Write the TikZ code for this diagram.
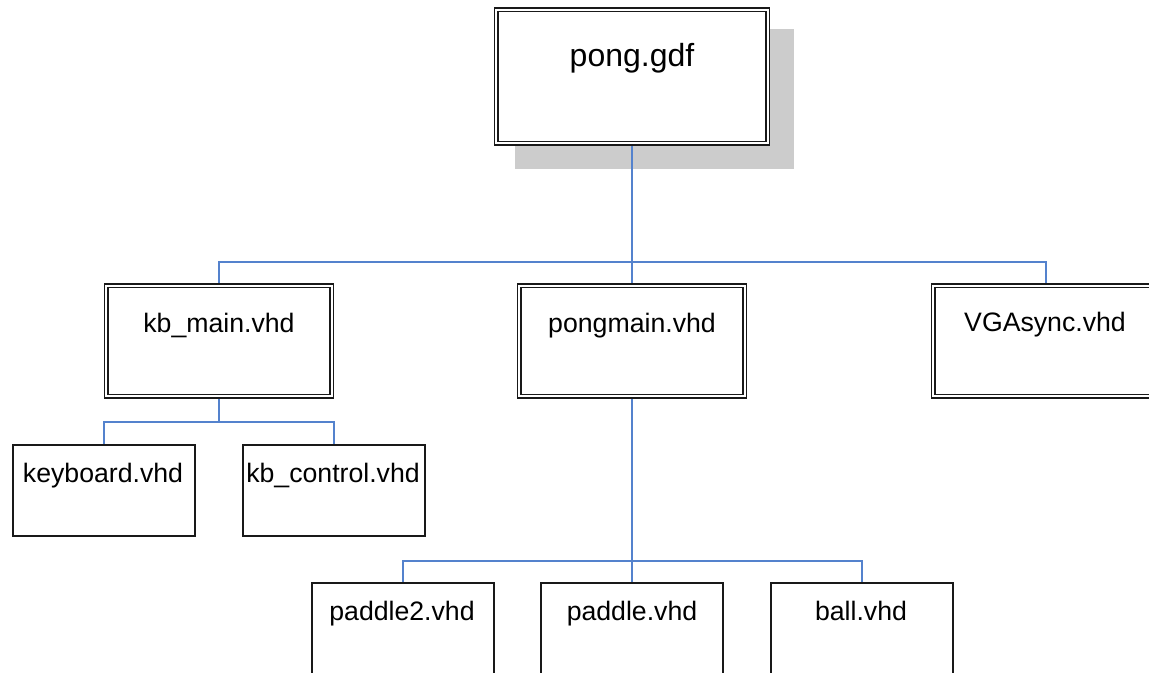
\documentclass[tikz,border=0pt]{standalone}
\usepackage{fontspec}
\setmainfont{Liberation Sans}
\usetikzlibrary{backgrounds}
\definecolor{connblue}{RGB}{84,130,205}
\definecolor{shadowgray}{RGB}{204,204,204}
\tikzset{
  dblbox/.style={draw=black!90, line width=1.15pt, double=white, double distance=1.5pt, fill=white,
    rectangle, inner sep=0pt, minimum width=169.4pt, minimum height=83.1pt},
  topbox/.style={dblbox, minimum width=203.9pt, minimum height=100.3pt},
  sglbox/.style={draw=black!90, line width=1.35pt, fill=white, rectangle, inner sep=0pt,
    minimum width=136.6pt, minimum height=68.4pt},
  lowbox/.style={sglbox, minimum height=90pt},
  lbl/.style={anchor=base, inner sep=0pt, font=\fontsize{20}{24}\selectfont},
  toplbl/.style={anchor=base, inner sep=0pt, font=\fontsize{24}{28}\selectfont},
  conn/.style={draw=connblue, line width=1.4pt},
  shade/.style={fill=shadowgray}
}
\begin{document}
\begin{tikzpicture}[x=0.75pt, y=-0.75pt]
\clip (0,0) rectangle (1149,673);
% boxes
\node[topbox] (pong) at (632,76.5) {};
\node[dblbox] (kb) at (219,341) {};
\node[dblbox] (pm) at (632,341) {};
\node[dblbox] (vga) at (1046,341) {};
\node[sglbox] (kbd) at (104,490.5) {};
\node[sglbox] (kbc) at (334,490.5) {};
\node[lowbox] (p2) at (403,643) {};
\node[lowbox] (pd) at (632,643) {};
\node[lowbox] (ball) at (862,643) {};
% labels
\node[toplbl] (tpong) at (632,67) {pong.gdf};
\node[lbl] (tkb) at (219,333) {kb\_main.vhd};
\node[lbl] (tpm) at (632,333) {pongmain.vhd};
\node[lbl] (tvga) at (1045,332) {VGAsync.vhd};
\node[lbl] (tkbd) at (103,482) {keyboard.vhd};
\node[lbl] (tkbc) at (333,482) {kb\_control.vhd};
\node[lbl] (tp2) at (402,620) {paddle2.vhd};
\node[lbl] (tpd) at (632,620) {paddle.vhd};
\node[lbl] (tball) at (861,620) {ball.vhd};
% bus points
\coordinate (bus1) at (632,262);
\coordinate (bus2) at (219,422);
\coordinate (bus3) at (632,561);
\begin{pgfonlayer}{background}
  \fill[shade] ([shift={(20,20)}]pong.north west) rectangle ([shift={(25,25)}]pong.south east);
  \draw[conn] (pong.south) -- (pm.north);
  \draw[conn] (kb.north) |- (bus1) -| (vga.north);
  \draw[conn] (kb.south) -- (bus2);
  \draw[conn] (kbd.north) |- (bus2) -| (kbc.north);
  \draw[conn] (pm.south) -- (pd.north);
  \draw[conn] (p2.north) |- (bus3) -| (ball.north);
\end{pgfonlayer}
\end{tikzpicture}
\end{document}
